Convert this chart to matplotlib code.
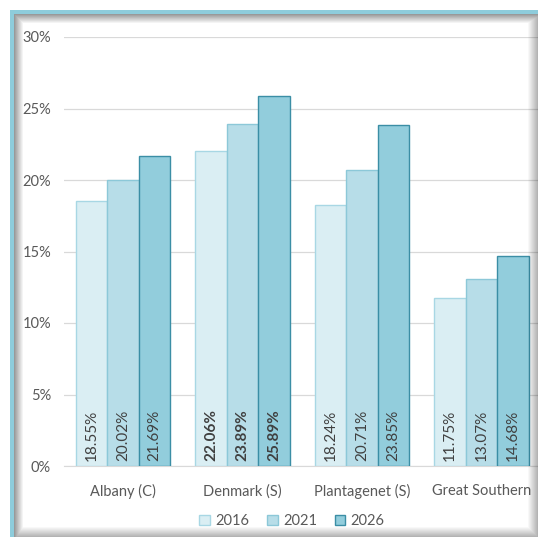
import numpy as np
import matplotlib
matplotlib.use('Agg')
import matplotlib.pyplot as plt
from matplotlib.patches import Patch

# Share of population by area and year
areas = ['Albany (C)', 'Denmark (S)', 'Plantagenet (S)', 'Great Southern']
years = ['2016', '2021', '2026']
share_2016 = [18.55, 22.06, 18.24, 11.75]
share_2021 = [20.02, 23.89, 20.71, 13.07]
share_2026 = [21.69, 25.89, 23.85, 14.68]
bold_area = 'Denmark (S)'

FILL = ['#daeef3', '#b7dde8', '#92cddc']
EDGE = ['#a8d7e4', '#8cc8d8', '#3b8ea5']
TEXT = '#404040'
AXIS_TEXT = '#595959'

W, H = 538, 537
plt.rcParams['font.family'] = ['Lato', 'DejaVu Sans']

fig = plt.figure(figsize=(W / 100, H / 100), dpi=100)
fig.patch.set_facecolor('white')

# plot area in pixel terms: x 63.5..541, y 37..466
x0, x1, ytop, ybot = 63.5, 541, 37, 466
ax = fig.add_axes([x0 / W, 1 - ybot / H, (x1 - x0) / W, (ybot - ytop) / H])
ax.set_facecolor('none')

series = [share_2016, share_2021, share_2026]
x = np.arange(len(areas))
bw = 0.264
for i, (vals, fc, ec) in enumerate(zip(series, FILL, EDGE)):
    pos = x + (i - 1) * bw
    ax.bar(pos, np.array(vals) / 100, width=bw, color=fc, edgecolor=ec,
           linewidth=1.0, zorder=3)
    for p, v, a in zip(pos, vals, areas):
        ax.text(p, 0.0035, f'{v:.2f}%', rotation=90, ha='center', va='bottom',
                fontsize=11, color=TEXT, zorder=4,
                fontweight='bold' if a == bold_area else 'normal')

ax.set_xlim(-0.5, len(areas) - 0.5)
ax.set_ylim(0, 0.30)
ticks = np.arange(0, 0.31, 0.05)
ax.set_yticks(ticks)
ax.set_yticklabels([f'{int(round(t * 100))}%' for t in ticks])
ax.set_xticks(x)
ax.set_xticklabels(areas)
ax.tick_params(axis='y', length=0, pad=9, labelsize=10.5, labelcolor=AXIS_TEXT)
ax.tick_params(axis='x', length=0, pad=13, labelsize=10.5, labelcolor=AXIS_TEXT)
ax.grid(axis='y', color='#d9d9d9', linewidth=0.9, zorder=0)
for s in ['top', 'right', 'left']:
    ax.spines[s].set_visible(False)
ax.spines['bottom'].set_color('#d9d9d9')

handles = [Patch(facecolor=fc, edgecolor=ec, label=y)
           for y, fc, ec in zip(years, FILL, EDGE)]
fig.legend(handles=handles, loc='center', bbox_to_anchor=(292 / W, 1 - 521 / H),
           ncol=3, frameon=False, fontsize=10.5, handlelength=0.75,
           handleheight=0.75, handletextpad=0.35, columnspacing=1.2,
           labelcolor=AXIS_TEXT)

# frame: blue border on left/top with soft inner shadows
img = np.zeros((H, W, 4))
yy, xx = np.mgrid[0:H, 0:W]
inside = (xx >= 14) & (yy >= 14)
dl = np.clip((xx - 14) / 9.0, 0, 1)
dt = np.clip((yy - 14) / 9.0, 0, 1)
dr = np.clip((W - 1 - xx) / 10.0, 0, 1)
db = np.clip((H - 1 - yy) / 10.0, 0, 1)
shade = np.maximum.reduce([(1 - dl) * 0.4, (1 - dt) * 0.4,
                           (1 - dr) * 0.3, (1 - db) * 0.3])
img[..., 3] = np.where(inside, shade, 0)
border = ((xx >= 10) & (xx < 14) & (yy >= 10)) | ((yy >= 10) & (yy < 14) & (xx >= 10))
img[border] = [0.56, 0.80, 0.86, 1.0]
over = fig.add_axes([0, 0, 1, 1], zorder=10)
over.imshow(img, aspect='auto', interpolation='bilinear')
over.axis('off')

fig.savefig('out.png', dpi=100, facecolor='white')
